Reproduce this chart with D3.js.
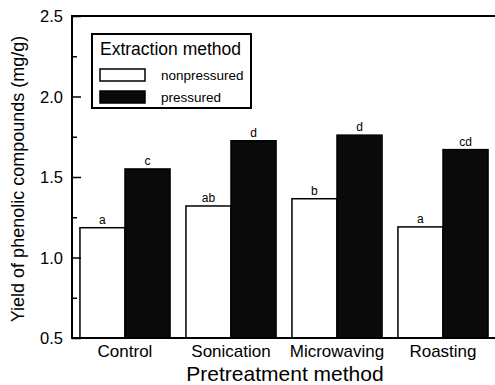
<!DOCTYPE html>
<html>
<head>
<meta charset="utf-8">
<script src="https://cdn.jsdelivr.net/npm/d3@7"></script>
<style>
  body { margin: 0; background: #fff; }
  svg { display: block; font-family: "Liberation Sans", Arial, sans-serif; }
</style>
</head>
<body>
<div id="chart"></div>
<script>
const categories = ['Control', 'Sonication', 'Microwaving', 'Roasting'];
const seriesNames = ['nonpressured', 'pressured'];
const nonpressured = [1.185, 1.32, 1.365, 1.19];
const pressured = [1.55, 1.725, 1.76, 1.67];
const nonpressuredLetters = ['a', 'ab', 'b', 'a'];
const pressuredLetters = ['c', 'd', 'd', 'cd'];
const yTicks = [0.5, 1.0, 1.5, 2.0, 2.5];

const width = 495;
const height = 385;
const margin = { top: 16, right: -1, bottom: 47, left: 72 };

const rows = categories.map((c, i) => ({
  category: c,
  values: [
    { series: 'nonpressured', value: nonpressured[i], letter: nonpressuredLetters[i] },
    { series: 'pressured', value: pressured[i], letter: pressuredLetters[i] },
  ],
}));

const svg = d3.select('#chart')
  .append('svg')
  .attr('width', width)
  .attr('height', height);

const xScale = d3.scaleBand()
  .domain(categories)
  .range([margin.left, width - margin.right])
  .paddingInner(0.15)
  .paddingOuter(0.075);

const xSub = d3.scaleBand()
  .domain(seriesNames)
  .range([0, xScale.bandwidth()]);

const yScale = d3.scaleLinear()
  .domain([0.5, 2.5])
  .range([height - margin.bottom, margin.top]);

const fill = { nonpressured: '#fff', pressured: '#0a0a0a' };

// bars
const groups = svg.append('g')
  .selectAll('g')
  .data(rows)
  .join('g')
  .attr('transform', (d) => `translate(${xScale(d.category)},0)`);

groups.selectAll('rect')
  .data((d) => d.values)
  .join('rect')
  .attr('x', (d) => xSub(d.series))
  .attr('y', (d) => yScale(d.value))
  .attr('width', xSub.bandwidth())
  .attr('height', (d) => yScale(0.5) - yScale(d.value))
  .attr('fill', (d) => fill[d.series])
  .attr('stroke', '#000')
  .attr('stroke-width', 1.5);

groups.selectAll('text')
  .data((d) => d.values)
  .join('text')
  .attr('x', (d) => xSub(d.series) + xSub.bandwidth() / 2)
  .attr('y', (d) => yScale(d.value) - 4)
  .attr('text-anchor', 'middle')
  .attr('font-size', 12)
  .text((d) => d.letter);

// y axis, ticks pointing inward
const minorTicks = d3.range(0.75, 2.5, 0.5);
svg.append('g')
  .attr('transform', `translate(${margin.left},0)`)
  .call(d3.axisRight(yScale).tickValues(minorTicks).tickSize(5).tickFormat(''))
  .call((g) => g.select('.domain').remove())
  .call((g) => g.selectAll('line').attr('stroke-width', 1.5));

svg.append('g')
  .attr('transform', `translate(${margin.left},0)`)
  .call(d3.axisRight(yScale).tickValues(yTicks).tickSize(9).tickFormat(''))
  .call((g) => g.select('.domain').remove())
  .call((g) => g.selectAll('line').attr('stroke-width', 1.5));

svg.append('g')
  .selectAll('text')
  .data(yTicks)
  .join('text')
  .attr('x', margin.left - 9)
  .attr('y', (d) => yScale(d) + 6)
  .attr('text-anchor', 'end')
  .attr('font-size', 16.5)
  .text((d) => d.toFixed(1));

// frame
svg.append('path')
  .attr('d', `M${width},${margin.top}H${margin.left}V${height - margin.bottom}H${width}`)
  .attr('fill', 'none')
  .attr('stroke', '#000')
  .attr('stroke-width', 2);

// x labels
svg.append('g')
  .selectAll('text')
  .data(categories)
  .join('text')
  .attr('x', (d) => xScale(d) + xScale.bandwidth() / 2)
  .attr('y', height - margin.bottom + 19)
  .attr('text-anchor', 'middle')
  .attr('font-size', 17)
  .text((d) => d);

svg.append('text')
  .attr('x', 285)
  .attr('y', 381)
  .attr('text-anchor', 'middle')
  .attr('font-size', 21)
  .text('Pretreatment method');

svg.append('text')
  .attr('transform', `translate(24,${(margin.top + height - margin.bottom) / 2 + 2}) rotate(-90)`)
  .attr('text-anchor', 'middle')
  .attr('font-size', 18)
  .text('Yield of phenolic compounds (mg/g)');

// legend
const legend = svg.append('g').attr('transform', 'translate(92,34)');
legend.append('rect')
  .attr('width', 159)
  .attr('height', 74)
  .attr('fill', '#fff')
  .attr('stroke', '#000')
  .attr('stroke-width', 2);
legend.append('text')
  .attr('x', 8)
  .attr('y', 21)
  .attr('font-size', 17.5)
  .text('Extraction method');
const items = legend.selectAll('g.item')
  .data(seriesNames)
  .join('g')
  .attr('class', 'item')
  .attr('transform', (d, i) => `translate(8,${35 + i * 22})`);
items.append('rect')
  .attr('width', 45)
  .attr('height', 12)
  .attr('fill', (d) => fill[d])
  .attr('stroke', '#000')
  .attr('stroke-width', 1.5);
items.append('text')
  .attr('x', 61)
  .attr('y', 11)
  .attr('font-size', 13.5)
  .text((d) => d);
</script>
</body>
</html>
